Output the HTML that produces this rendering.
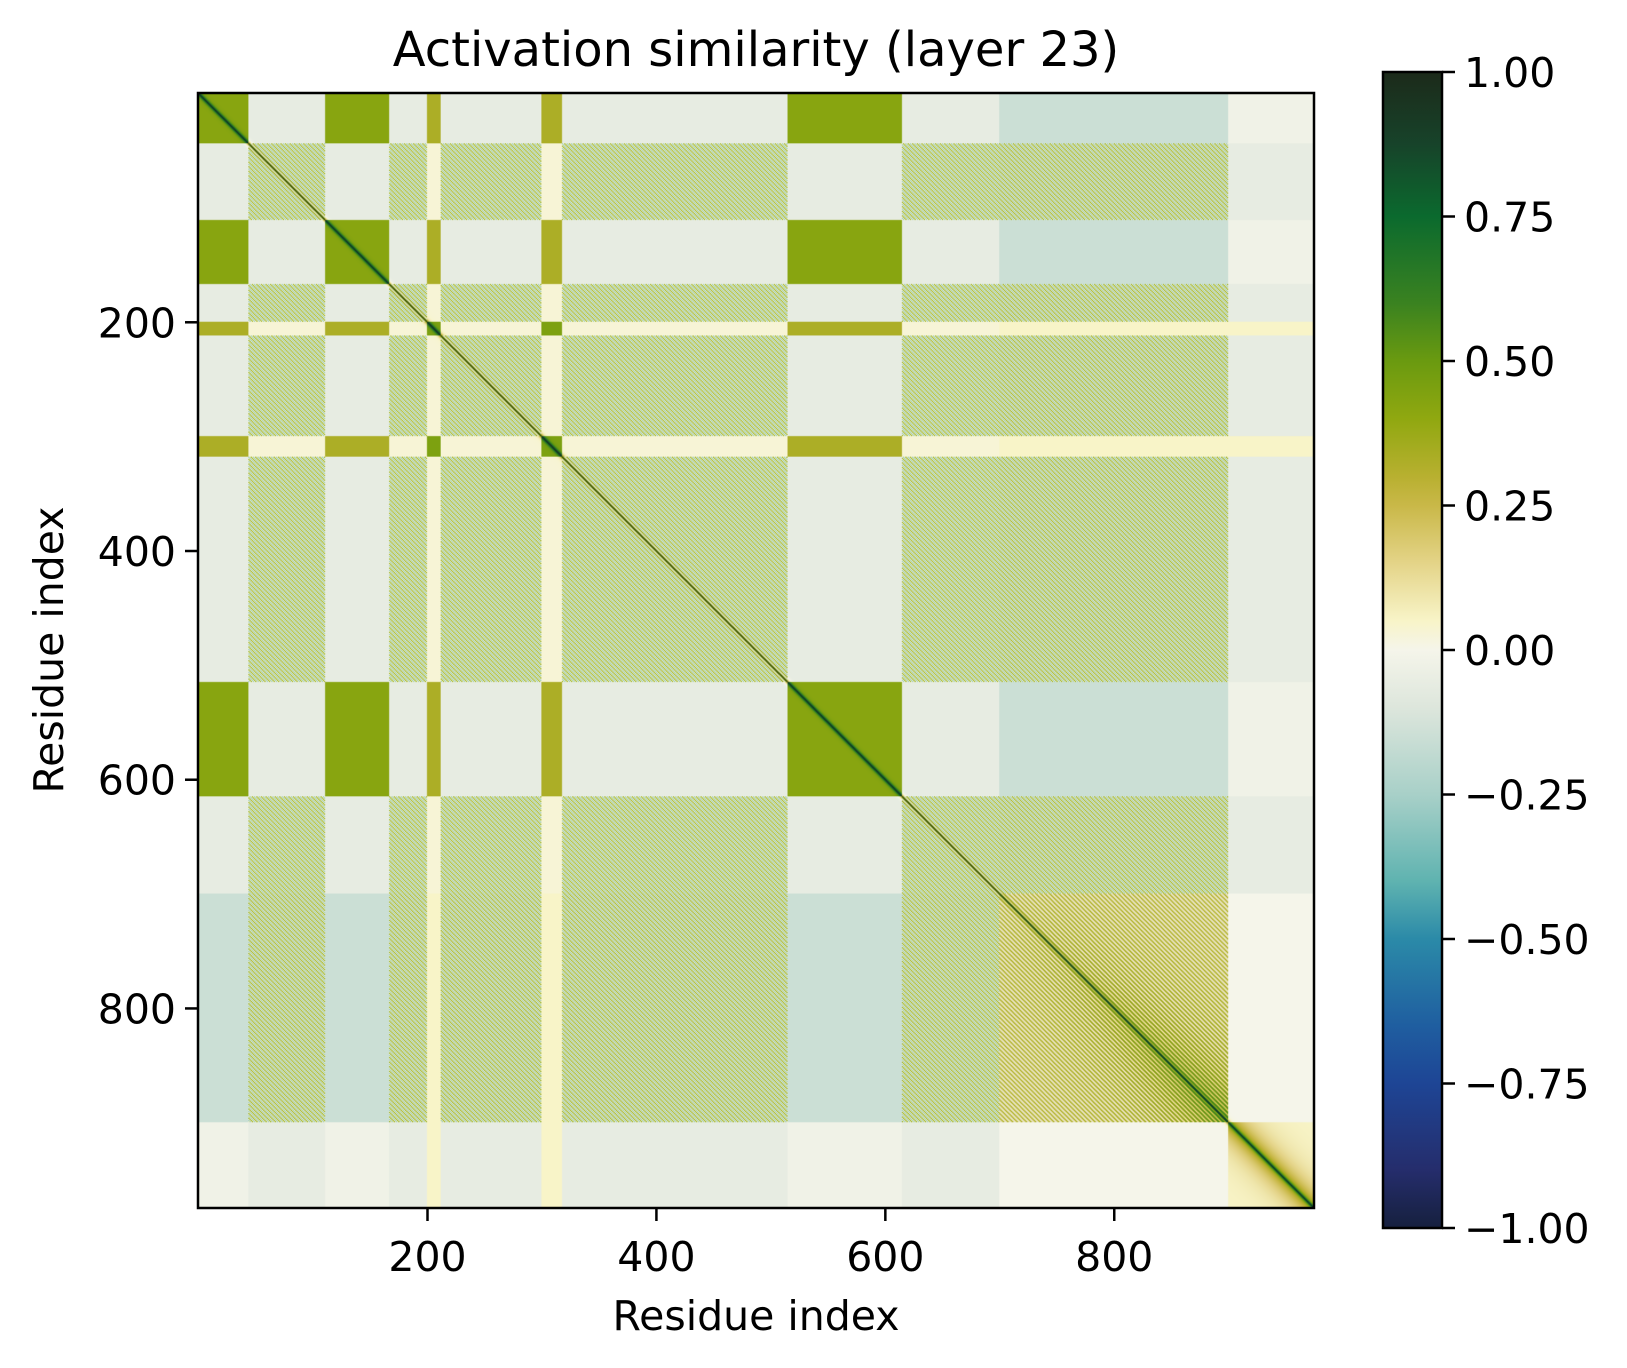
<!DOCTYPE html>
<html><head><meta charset="utf-8">
<style>
html,body{margin:0;padding:0;background:#fff;}
#wrap{position:relative;width:1627px;height:1368px;overflow:hidden;font-family:"DejaVu Sans","Liberation Sans",sans-serif;color:#000;}
.t{position:absolute;white-space:nowrap;}
</style></head>
<body>
<div id="wrap">
<div class="t" style="left:256px;width:1000px;top:22px;text-align:center;font-size:48px;">Activation similarity (layer 23)</div>
<canvas id="hm" width="975" height="975" style="position:absolute;left:198px;top:93px;width:1116px;height:1115px;"></canvas>
<svg id="ax" width="1627" height="1368" style="position:absolute;left:0;top:0;">
<defs><linearGradient id="cg" x1="0" y1="1" x2="0" y2="0"></linearGradient></defs>
</svg>
<div class="t" style="left:556px;width:400px;top:1292px;text-align:center;font-size:41px;">Residue index</div>
<div class="t" style="left:-151px;width:400px;top:626px;text-align:center;font-size:41px;transform:rotate(-90deg);">Residue index</div>
</div>
<script>
// data
const N = 975;
const segStart = [0,44,111,167,200,212,300,318,515,615,700,900];
const segEnd   = [44,111,167,200,212,300,318,515,615,700,900,975];
const segGroup = ["A","B","A","B","S","B","S","B","A","B","D","E"];
const groups = ["A","B","S","D","E"];
const groupSim = [
  [0.42,-0.06,0.33,-0.15,-0.02],
  [-0.06,0.05,0.03,0.06,-0.06],
  [0.33,0.03,0.45,0.05,0.05],
  [-0.15,0.06,0.05,0.14,0.00],
  [-0.02,-0.06,0.05,0.00,0.05]
];
const cbTicks = [1.00,0.75,0.50,0.25,0.00,-0.25,-0.50,-0.75,-1.00];
const xTicks = [200,400,600,800];
const yTicks = [200,400,600,800];
// colormap
const cmV = [-1,-0.9,-0.75,-0.65,-0.5,-0.4,-0.25,-0.1,0,0.05,0.15,0.25,0.3,0.4,0.5,0.6,0.75,0.875,1];
const cmC = ["#16203e","#252d6c","#1e4595","#1f5ea0","#2b8aa8","#5fb3b0","#a8d0c8","#dde6dc","#f5f5ea","#f8f4c8","#e4d488","#c9b848","#b8b030","#90a810","#6a9a10","#3a8220","#0b6a2e","#17432a","#1c2a1a"];
function hex(h){return [parseInt(h.substr(1,2),16),parseInt(h.substr(3,2),16),parseInt(h.substr(5,2),16)];}
const cmRGB = cmC.map(hex);
function cmap(v){
  v=Math.max(-1,Math.min(1,v));
  for(let k=0;k<cmV.length-1;k++){
    if(v<=cmV[k+1]){const t=(v-cmV[k])/(cmV[k+1]-cmV[k]);const a=cmRGB[k],b=cmRGB[k+1];return [a[0]+(b[0]-a[0])*t,a[1]+(b[1]-a[1])*t,a[2]+(b[2]-a[2])*t];}
  }
  return cmRGB[cmRGB.length-1];
}
const segOf = new Array(N);
for(let s=0;s<segStart.length;s++) for(let i=segStart[s];i<segEnd[s];i++) segOf[i]=groups.indexOf(segGroup[s]);
const cv=document.getElementById('hm'), ctx=cv.getContext('2d');
const img=ctx.createImageData(N,N);
for(let i=0;i<N;i++)for(let j=0;j<N;j++){
  const gi=segOf[i],gj=segOf[j];
  const a=groups[gi], b=groups[gj];
  let v=groupSim[gi][gj];
  const d=Math.abs(i-j);
  if((a==="B"&&(b==="B"||b==="D"))||(b==="B"&&a==="D")) v+=0.36*Math.cos((i-j)*Math.PI/2);
  if(a==="D"&&b==="D"){ v+=0.22*Math.cos((i-j)*Math.PI/2); v+=0.3*Math.exp(-d/50)*(((i+j)/2-700)/200); }
  if(a==="E"&&b==="E") v+=0.35*Math.exp(-d/15);
  v+=0.7*Math.exp(-d/1.5);
  const c=cmap(v), p=(i*N+j)*4;
  img.data[p]=c[0];img.data[p+1]=c[1];img.data[p+2]=c[2];img.data[p+3]=255;
}
ctx.putImageData(img,0,0);
// axes
const svg=document.getElementById('ax'), NS="http://www.w3.org/2000/svg";
const L=198,T=93,W=1116,H=1115;
const FF='DejaVu Sans, Liberation Sans, sans-serif';
const xs=v=>L+(v+0.5)/N*W, ys=v=>T+(v+0.5)/N*H;
function mk(tag,attrs,parent){const e=document.createElementNS(NS,tag);for(const k in attrs)e.setAttribute(k,attrs[k]);(parent||svg).appendChild(e);return e;}
const frame=mk('rect',{x:L,y:T,width:W,height:H,fill:'none',stroke:'#000','stroke-width':2.5});


xTicks.forEach(v=>{
  const l=mk('line',{x1:xs(v),x2:xs(v),y1:T+H,y2:T+H+13,stroke:'#000','stroke-width':2.5});
  
  
  const t=mk('text',{x:xs(v),y:1271,'text-anchor':'middle','font-size':41,'font-family':FF});t.textContent=v;
  
  
});
yTicks.forEach(v=>{
  const l=mk('line',{x1:L-13,x2:L,y1:ys(v),y2:ys(v),stroke:'#000','stroke-width':2.5});
  
  
  const t=mk('text',{x:L-22,y:ys(v)+15,'text-anchor':'end','font-size':41,'font-family':FF});t.textContent=v;
  
  
});
// colorbar
const CL=1383,CW=59,CT=72,CB=1228;
const grad=document.getElementById('cg');
cmV.forEach((v,k)=>mk('stop',{offset:((v+1)/2*100)+'%','stop-color':cmC[k]},grad));
const cb=mk('rect',{x:CL,y:CT,width:CW,height:CB-CT,fill:'url(#cg)',stroke:'#000','stroke-width':2.5});


const cy=v=>CB-(v+1)/2*(CB-CT);
cbTicks.forEach(v=>{
  const l=mk('line',{x1:CL+CW,x2:CL+CW+13,y1:cy(v),y2:cy(v),stroke:'#000','stroke-width':2.5});
  
  
  const t=mk('text',{x:CL+CW+22,y:cy(v)+15,'font-size':41,'font-family':FF});
  t.textContent=(v<0?'\u2212':'')+Math.abs(v).toFixed(2);
  
  
});
</script>
</body></html>
